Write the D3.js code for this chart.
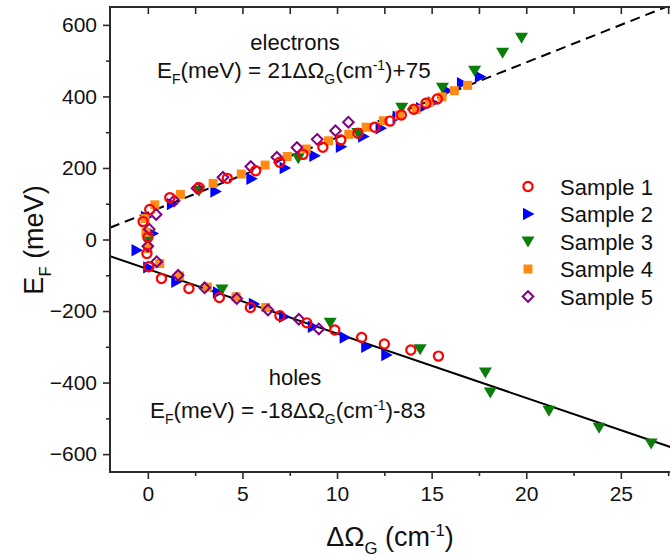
<!DOCTYPE html>
<html>
<head>
<meta charset="utf-8">
<script src="https://cdn.jsdelivr.net/npm/d3@7"></script>
<style>
  html, body { margin: 0; padding: 0; background: #fff; }
  svg { display: block; font-family: "Liberation Sans", Arial, Helvetica, sans-serif; }
</style>
</head>
<body>
<svg id="chart" width="670" height="557"></svg>
<script>
// ---------------- data ----------------
const xTicks = [0, 5, 10, 15, 20, 25];
const yTicks = [-600, -400, -200, 0, 200, 400, 600];
const seriesNames = ["Sample 1", "Sample 2", "Sample 3", "Sample 4", "Sample 5"];

const sample1 = [
  [-0.25, 50], [0.1, 84], [1.16, 117], [2.7, 145], [4.2, 171], [5.7, 192], [6.97, 216],
  [8.2, 238], [9.25, 258], [10.2, 278], [11.1, 297], [12.0, 314], [12.8, 331], [13.4, 348],
  [14.05, 364], [14.7, 381], [15.3, 393],
  [0, 6], [-0.05, -39],
  [0.05, -76], [0.72, -109], [2.17, -137], [3.78, -162], [5.42, -190], [6.98, -213],
  [8.4, -233], [9.88, -253], [11.3, -274], [12.5, -292], [13.9, -309], [15.36, -326]
];
const sample2 = [
  [-0.6, -30], [0.25, 17], [-0.1, 63], [1.27, 99], [3.57, 134], [5.47, 170], [7.23, 200],
  [8.8, 234], [10.2, 259], [11.38, 288], [12.3, 311], [13.2, 343], [14.44, 367], [15.06, 383],
  [15.8, 416], [16.6, 437], [17.55, 455],
  [0.02, -78], [1.5, -118], [3.7, -148], [5.6, -180], [7.2, -216], [8.72, -244],
  [10.4, -274], [11.54, -300], [12.6, -323]
];
const sample3 = [
  [0, 4], [2.7, 136], [7.95, 227], [11.1, 298], [13.42, 368], [15.57, 424], [17.27, 472],
  [18.75, 522], [19.75, 564],
  [3.92, -140], [9.64, -233], [14.39, -307], [17.84, -372], [18.1, -428], [21.2, -479],
  [23.85, -526], [26.6, -570]
];
const sample4 = [
  [-0.15, 59], [0.37, 97], [1.72, 126], [3.45, 157], [4.94, 183], [6.2, 208], [7.37, 232],
  [8.37, 253], [9.55, 276], [10.62, 294], [11.54, 314], [12.45, 332], [13.3, 348],
  [14.18, 364], [14.88, 384], [15.55, 399], [16.2, 416], [16.9, 431],
  [-0.1, 20], [0.0, -25],
  [0.63, -67], [1.67, -102], [3.15, -133], [4.66, -160], [6.23, -190]
];
const sample5 = [
  [0.07, 29], [0.44, 70], [1.39, 108], [2.6, 143], [3.97, 174], [5.44, 204], [6.82, 230],
  [7.88, 257], [8.95, 280], [9.92, 304], [10.6, 328],
  [0, -19],
  [0.47, -62], [1.6, -100], [3.0, -135], [4.7, -165], [6.35, -197], [7.98, -223], [9.04, -250]
];
// linear fits: E_F = slope * dOmega + intercept
const electronFit = [21, 75];
const holeFit = [-18, -83];

// ---------------- layout ----------------
const svg = d3.select("#chart");
const x = d3.scaleLinear().domain([-2, 28]).range([110, 677.6]);
const y = d3.scaleLinear().domain([-650, 650]).range([472, 7]);
const axisColor = "#2b2b2b";

svg.append("defs").append("clipPath").attr("id", "plotclip")
  .append("rect").attr("x", x(-2)).attr("y", y(650))
  .attr("width", x(28) - x(-2)).attr("height", y(-650) - y(650));

// fit lines
const plot = svg.append("g").attr("clip-path", "url(#plotclip)");
const lineGen = d3.line().x(d => x(d[0])).y(d => y(d[1]));
const xs = [-2, 28];
plot.append("path")
  .attr("d", lineGen(xs.map(v => [v, electronFit[0] * v + electronFit[1]])))
  .attr("fill", "none").attr("stroke", "#000").attr("stroke-width", 2)
  .attr("stroke-dasharray", "10,6");
plot.append("path")
  .attr("d", lineGen(xs.map(v => [v, holeFit[0] * v + holeFit[1]])))
  .attr("fill", "none").attr("stroke", "#000").attr("stroke-width", 2);

// marker definitions
const markers = {
  "Sample 1": { color: "#ff0000", draw: g => g.append("circle").attr("r", 4.6).attr("fill", "none").attr("stroke", "#ff0000").attr("stroke-width", 2.2) },
  "Sample 2": { color: "#0000ff", draw: g => g.append("path").attr("d", "M-5,-6.2L6.5,0L-5,6.2Z").attr("fill", "#0000ff") },
  "Sample 3": { color: "#008000", draw: g => g.append("path").attr("d", "M-6.5,-5L6.5,-5L0,6Z").attr("fill", "#0a7d0a") },
  "Sample 4": { color: "#ff8000", draw: g => g.append("rect").attr("x", -4.5).attr("y", -4.5).attr("width", 9).attr("height", 9).attr("fill", "#ff8a14") },
  "Sample 5": { color: "#800080", draw: g => g.append("path").attr("d", "M0,-5.3L5.3,0L0,5.3L-5.3,0Z").attr("fill", "none").attr("stroke", "#800080").attr("stroke-width", 2) }
};
const seriesData = { "Sample 1": sample1, "Sample 2": sample2, "Sample 3": sample3, "Sample 4": sample4, "Sample 5": sample5 };
const drawOrder = ["Sample 2", "Sample 3", "Sample 4", "Sample 5", "Sample 1"];

drawOrder.forEach(name => {
  const g = plot.append("g");
  seriesData[name].forEach(d => {
    const m = g.append("g").attr("transform", `translate(${x(d[0])},${y(d[1])})`);
    markers[name].draw(m);
  });
});

// ---------------- axes ----------------
const minorX = d3.range(-0, 28, 2.5).filter(v => xTicks.indexOf(v) < 0);
const minorY = d3.range(-600, 601, 100).filter(v => yTicks.indexOf(v) < 0);

function styleAxis(g) {
  g.selectAll(".domain").remove();
  g.selectAll("line").attr("stroke", axisColor).attr("stroke-width", 1.6);
  g.selectAll("text").attr("fill", "#111").style("font-size", "21px")
    .style("font-family", "'Liberation Sans', Arial, sans-serif");
}

// bottom
svg.append("g").attr("transform", `translate(0,${y(-650)})`)
  .call(d3.axisBottom(x).tickValues(xTicks).tickSize(7).tickPadding(7).tickFormat(d3.format("d")))
  .call(styleAxis);
svg.append("g").attr("transform", `translate(0,${y(-650)})`)
  .call(d3.axisBottom(x).tickValues(minorX).tickSize(4).tickFormat(""))
  .call(styleAxis);
// top (inward)
svg.append("g").attr("transform", `translate(0,${y(650)})`)
  .call(d3.axisTop(x).tickValues(xTicks.concat(minorX)).tickSize(-7).tickFormat(""))
  .call(styleAxis);
// left
svg.append("g").attr("transform", `translate(${x(-2)},0)`)
  .call(d3.axisLeft(y).tickValues(yTicks).tickSize(7).tickPadding(6).tickFormat(d3.format("d")))
  .call(styleAxis);
svg.append("g").attr("transform", `translate(${x(-2)},0)`)
  .call(d3.axisLeft(y).tickValues(minorY).tickSize(4).tickFormat(""))
  .call(styleAxis);
// right (inward)
svg.append("g").attr("transform", `translate(${x(28)},0)`)
  .call(d3.axisRight(y).tickValues(yTicks.concat(minorY)).tickSize(-7).tickFormat(""))
  .call(styleAxis);

// frame
svg.append("rect")
  .attr("x", x(-2)).attr("y", y(650))
  .attr("width", x(28) - x(-2)).attr("height", y(-650) - y(650))
  .attr("fill", "none").attr("stroke", axisColor).attr("stroke-width", 2);

// ---------------- annotations ----------------
function richText(parent, xPos, yPos, parts, size, anchor) {
  const t = parent.append("text").attr("x", xPos).attr("y", yPos)
    .attr("text-anchor", anchor || "start").style("font-size", size + "px").attr("fill", "#111");
  let shift = 0;
  parts.forEach(p => {
    const target = p.sub ? size * 0.28 : (p.sup ? -size * 0.36 : 0);
    const ts = t.append("tspan").text(p.t).attr("dy", target - shift);
    if (p.sub || p.sup) ts.style("font-size", (size * 0.62) + "px");
    shift = target;
  });
  return t;
}

svg.append("text").attr("x", 295).attr("y", 50).attr("text-anchor", "middle")
  .style("font-size", "22px").attr("fill", "#111").text("electrons");
richText(svg, 157, 78, [
  { t: "E" }, { t: "F", sub: true }, { t: "(meV) = 21ΔΩ" }, { t: "G", sub: true },
  { t: "(cm" }, { t: "-1", sup: true }, { t: ")+75" }
], 22.5);

svg.append("text").attr("x", 295).attr("y", 385).attr("text-anchor", "middle")
  .style("font-size", "22px").attr("fill", "#111").text("holes");
richText(svg, 150, 418, [
  { t: "E" }, { t: "F", sub: true }, { t: "(meV) = -18ΔΩ" }, { t: "G", sub: true },
  { t: "(cm" }, { t: "-1", sup: true }, { t: ")-83" }
], 22.5);

// axis titles
richText(svg, 390, 546, [
  { t: "ΔΩ" }, { t: "G", sub: true }, { t: " (cm" }, { t: "-1", sup: true }, { t: ")" }
], 27, "middle");
richText(svg.append("g").attr("transform", "translate(43,240) rotate(-90)"), 0, 0, [
  { t: "E" }, { t: "F", sub: true }, { t: " (meV)" }
], 27, "middle");

// ---------------- legend ----------------
const legend = svg.append("g");
seriesNames.forEach((name, i) => {
  const cy = 186.5 + i * 27.5;
  const m = legend.append("g").attr("transform", `translate(528,${cy})`);
  markers[name].draw(m);
  legend.append("text").attr("x", 560).attr("y", cy + 8)
    .style("font-size", "22px").attr("fill", "#111").text(name);
});
</script>
</body>
</html>
